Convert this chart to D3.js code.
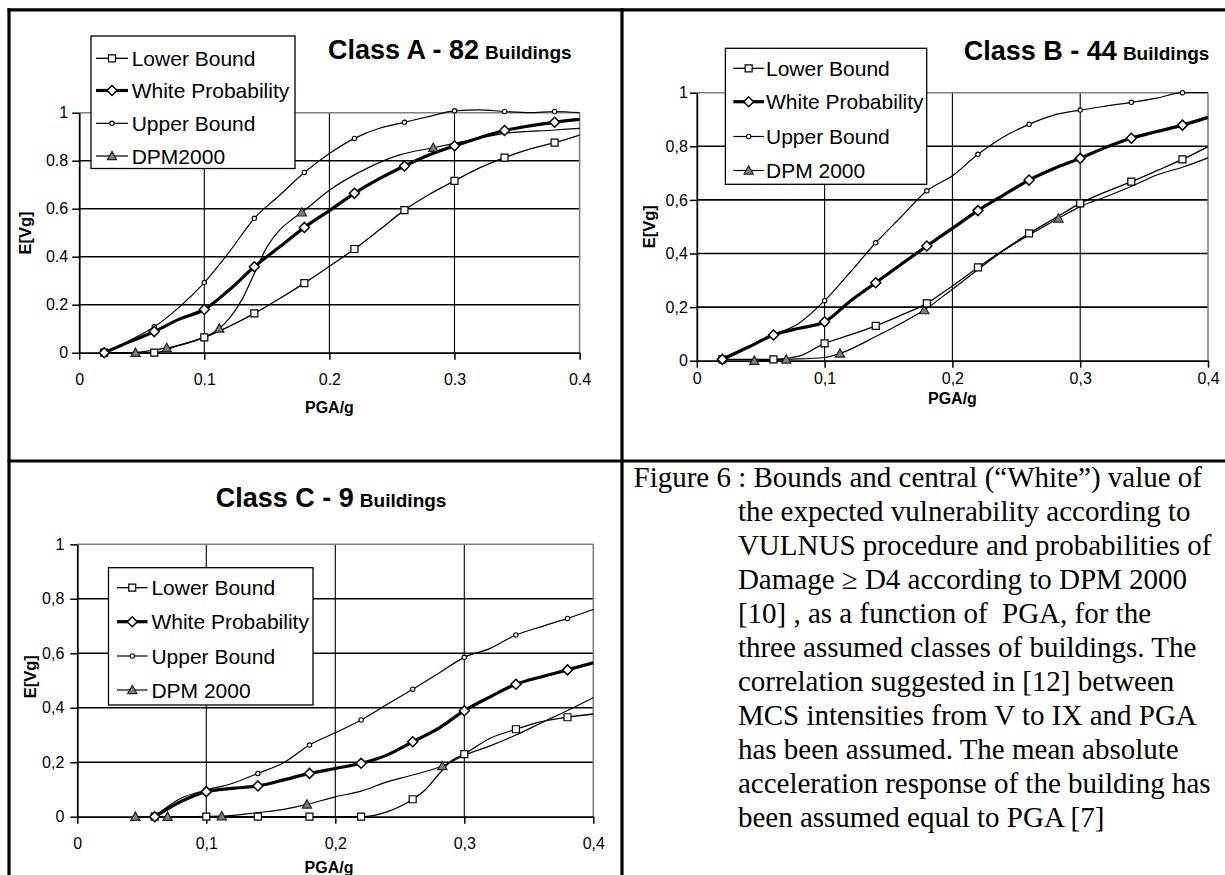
<!DOCTYPE html>
<html>
<head>
<meta charset="utf-8">
<script src="https://cdn.jsdelivr.net/npm/d3@7"></script>
<style>
  html, body { margin: 0; padding: 0; background: #fff; }
  svg { display: block; }
</style>
</head>
<body>
<script>
// ---------------- DATA ----------------
const xTickValues = [0, 0.1, 0.2, 0.3, 0.4];
const yTickValues = [0, 0.2, 0.4, 0.6, 0.8, 1];
const xTickLabelsA = ["0", "0.1", "0.2", "0.3", "0.4"];
const yTickLabelsA = ["0", "0.2", "0.4", "0.6", "0.8", "1"];
const xTickLabelsBC = ["0", "0,1", "0,2", "0,3", "0,4"];
const yTickLabelsBC = ["0", "0,2", "0,4", "0,6", "0,8", "1"];

const seriesNamesA = ["Lower Bound", "White Probability", "Upper Bound", "DPM2000"];
const seriesNamesBC = ["Lower Bound", "White Probability", "Upper Bound", "DPM 2000"];

// marker positions (PGA/g)
const boundMarksAB = [0.02, 0.06, 0.10, 0.14, 0.18, 0.22, 0.26, 0.30, 0.34, 0.38];
const boundMarksC = [0.06, 0.10, 0.14, 0.18, 0.22, 0.26, 0.30, 0.34, 0.38];
const dpmMarks = [0.045, 0.070, 0.112, 0.178, 0.283];

// Class A - 82 buildings
const pgaA = [0.02,0.04,0.06,0.08,0.10,0.12,0.14,0.16,0.18,0.20,0.22,0.24,0.26,0.28,0.30,0.32,0.34,0.36,0.38,0.40];
const upperA = [0.000,0.050,0.108,0.190,0.292,0.420,0.560,0.655,0.751,0.830,0.893,0.935,0.960,0.985,1.008,1.012,1.005,1.000,1.005,1.000];
const whiteA = [0.000,0.045,0.088,0.140,0.180,0.262,0.358,0.440,0.522,0.592,0.664,0.725,0.778,0.825,0.862,0.896,0.926,0.945,0.960,0.972];
const lowerA = [0.000,0.000,0.000,0.032,0.064,0.110,0.164,0.225,0.290,0.360,0.432,0.512,0.594,0.660,0.716,0.770,0.813,0.848,0.875,0.907];
const pgaDpmA = [0.045,0.070,0.090,0.112,0.120,0.130,0.140,0.150,0.160,0.170,0.178,0.200,0.230,0.256,0.283,0.300,0.340,0.380,0.400];
const dpmA = [0.000,0.020,0.045,0.101,0.143,0.220,0.330,0.440,0.510,0.555,0.585,0.677,0.768,0.824,0.854,0.872,0.914,0.928,0.935];

// Class B - 44 buildings
const pgaB = [0.02,0.04,0.06,0.08,0.10,0.12,0.14,0.16,0.18,0.20,0.22,0.24,0.26,0.28,0.30,0.32,0.34,0.36,0.38,0.40];
const upperB = [0.009,0.052,0.096,0.140,0.224,0.330,0.440,0.537,0.634,0.690,0.770,0.835,0.882,0.917,0.935,0.950,0.964,0.980,1.000,1.000];
const whiteB = [0.005,0.050,0.096,0.121,0.145,0.222,0.291,0.360,0.428,0.494,0.560,0.618,0.674,0.718,0.755,0.796,0.830,0.855,0.879,0.908];
const lowerB = [0.005,0.005,0.005,0.017,0.065,0.096,0.130,0.170,0.214,0.279,0.348,0.413,0.475,0.531,0.587,0.630,0.668,0.709,0.751,0.799];
const pgaDpmB = [0.045,0.070,0.100,0.112,0.140,0.160,0.178,0.200,0.240,0.283,0.300,0.320,0.340,0.360,0.380,0.400];
const dpmB = [0.000,0.005,0.012,0.027,0.090,0.140,0.189,0.267,0.410,0.531,0.575,0.612,0.650,0.693,0.722,0.757];

// Class C - 9 buildings
const pgaC = [0.06,0.08,0.10,0.12,0.14,0.16,0.18,0.20,0.22,0.24,0.26,0.28,0.30,0.32,0.34,0.36,0.38,0.40];
const upperC = [0.002,0.067,0.098,0.122,0.159,0.198,0.263,0.308,0.355,0.412,0.468,0.526,0.585,0.618,0.667,0.698,0.728,0.761];
const whiteC = [0.000,0.055,0.092,0.104,0.113,0.135,0.159,0.177,0.196,0.226,0.275,0.324,0.389,0.440,0.486,0.514,0.539,0.565];
const pgaLowerC = [0.06,0.10,0.14,0.18,0.22,0.24,0.26,0.27,0.28,0.29,0.30,0.32,0.34,0.36,0.38,0.40];
const lowerC = [0.000,0.000,0.000,0.000,0.000,0.018,0.064,0.100,0.155,0.205,0.230,0.288,0.321,0.349,0.365,0.377];
const pgaDpmC = [0.045,0.070,0.112,0.140,0.160,0.178,0.200,0.220,0.240,0.260,0.283,0.300,0.320,0.340,0.360,0.380,0.400];
const dpmC = [0.000,0.000,0.002,0.015,0.027,0.045,0.073,0.094,0.128,0.153,0.186,0.225,0.260,0.300,0.345,0.390,0.437];

const captionLines = [
  "Figure 6 : Bounds and central (\u201CWhite\u201D) value of",
  "the expected vulnerability according to",
  "VULNUS procedure and probabilities of",
  "Damage \u2265 D4 according to DPM 2000",
  "[10] , as a function of  PGA, for the",
  "three assumed classes of buildings. The",
  "correlation suggested in [12] between",
  "MCS intensities from V to IX and PGA",
  "has been assumed. The mean absolute",
  "acceleration response of the building has",
  "been assumed equal to PGA [7]"
];

// ---------------- DRAWING ----------------
const W = 1225, H = 875;
const svg = d3.select("body").append("svg").attr("width", W).attr("height", H)
  .style("font-family", "'Liberation Sans', Arial, sans-serif");
svg.append("rect").attr("width", W).attr("height", H).attr("fill", "#fff");

function markerPath(type, cx, cy) {
  if (type === "square") { const s = 3.5; return `M${cx-s},${cy-s}h${2*s}v${2*s}h${-2*s}Z`; }
  if (type === "diamond") { const s = 5; return `M${cx},${cy-s}L${cx+s},${cy}L${cx},${cy+s}L${cx-s},${cy}Z`; }
  if (type === "triangle") { const s = 4.6; return `M${cx},${cy-s}L${cx+s},${cy+s*0.8}L${cx-s},${cy+s*0.8}Z`; }
  return null;
}
function drawMarker(g, type, cx, cy) {
  if (type === "circle") {
    g.append("circle").attr("cx", cx).attr("cy", cy).attr("r", 2.2)
      .attr("fill", "#fff").attr("stroke", "#000").attr("stroke-width", 1.1);
  } else {
    g.append("path").attr("d", markerPath(type, cx, cy))
      .attr("fill", type === "triangle" ? "#7f7f7f" : "#fff")
      .attr("stroke", type === "triangle" ? "#222" : "#000")
      .attr("stroke-width", type === "diamond" ? 1.5 : 1.2);
  }
}

function drawPanel(cfg) {
  const g = svg.append("g");
  const x = d3.scaleLinear().domain([0, 0.4]).range([cfg.L, cfg.R]);
  const y = d3.scaleLinear().domain([0, 1]).range([cfg.B, cfg.T]);

  // grid
  [0.2, 0.4, 0.6, 0.8].forEach(v => g.append("line")
    .attr("x1", cfg.L).attr("x2", cfg.R).attr("y1", y(v)).attr("y2", y(v))
    .attr("stroke", "#000").attr("stroke-width", 1.6));
  [0.1, 0.2, 0.3].forEach(v => g.append("line")
    .attr("x1", x(v)).attr("x2", x(v)).attr("y1", cfg.T).attr("y2", cfg.B)
    .attr("stroke", "#000").attr("stroke-width", 1.1));
  // plot-area border (top & right, grey)
  g.append("line").attr("x1", cfg.L).attr("x2", cfg.R).attr("y1", y(1)).attr("y2", y(1))
    .attr("stroke", "#808080").attr("stroke-width", 1.6);
  g.append("line").attr("x1", x(0.4)).attr("x2", x(0.4)).attr("y1", cfg.T).attr("y2", cfg.B)
    .attr("stroke", "#808080").attr("stroke-width", 1.6);

  // axes
  const ax = g.append("g").attr("transform", `translate(0,${cfg.B})`)
    .call(d3.axisBottom(x).tickValues(xTickValues).tickFormat((d, i) => cfg.xLabels[i])
      .tickSize(7).tickSizeOuter(0).tickPadding(cfg.xPad));
  const ay = g.append("g").attr("transform", `translate(${cfg.L},0)`)
    .call(d3.axisLeft(y).tickValues(yTickValues).tickFormat((d, i) => cfg.yLabels[i])
      .tickSize(7).tickSizeOuter(0).tickPadding(cfg.yPad));
  [ax, ay].forEach(a => {
    a.select(".domain").attr("stroke", "#000").attr("stroke-width", 1.8);
    a.selectAll(".tick line").attr("stroke", "#000").attr("stroke-width", 1.5);
    a.selectAll(".tick text").attr("fill", "#000").style("font-size", "16px")
      .style("font-family", "'Liberation Sans', Arial, sans-serif");
  });

  // series
  const line = d3.line().curve(d3.curveMonotoneX);
  cfg.series.forEach(s => {
    const pts = s.xs.map((v, i) => [x(v), y(s.ys[i])]);
    g.append("path").attr("d", line(pts)).attr("fill", "none")
      .attr("stroke", "#000").attr("stroke-width", s.width).attr("stroke-linejoin", "round");
  });
  cfg.series.forEach(s => {
    s.marks.forEach(m => {
      const i = s.xs.findIndex(v => Math.abs(v - m) < 1e-6);
      if (i >= 0) drawMarker(g, s.type, x(s.xs[i]), y(s.ys[i]));
    });
  });

  // legend
  const lg = cfg.legend;
  g.append("rect").attr("x", lg.x0).attr("y", lg.y0).attr("width", lg.x1 - lg.x0).attr("height", lg.y1 - lg.y0)
    .attr("fill", "#fff").attr("stroke", "#000").attr("stroke-width", 1.3);
  [0, 1, 2, 3].forEach((k, r) => {
    const s = cfg.legendSeries[k];
    const yy = lg.rows[r];
    g.append("line").attr("x1", lg.s0).attr("x2", lg.s1).attr("y1", yy).attr("y2", yy)
      .attr("stroke", "#000").attr("stroke-width", s.width);
    drawMarker(g, s.type, (lg.s0 + lg.s1) / 2, yy);
    g.append("text").attr("x", lg.tx).attr("y", yy + 7.5).text(cfg.names[k])
      .style("font-size", "21px").attr("fill", "#000");
  });

  // title
  const t = g.append("text").attr("x", cfg.titleX).attr("y", cfg.titleY)
    .style("font-weight", "bold").attr("fill", "#000");
  t.append("tspan").text(cfg.titleMain).style("font-size", "27px");
  t.append("tspan").text("Buildings").attr("dx", 6).style("font-size", "19px");

  // axis titles
  g.append("text").attr("x", cfg.xTitleX).attr("y", cfg.xTitleY).attr("text-anchor", "middle")
    .style("font-weight", "bold").style("font-size", "16px").text("PGA/g");
  g.append("text").attr("transform", `translate(${cfg.yTitleX},${cfg.yTitleY}) rotate(-90)`)
    .attr("text-anchor", "middle").style("font-weight", "bold").style("font-size", "16.5px").text("E[Vg]");
}

function makeSeries(lx, ly, wx, wy, ux, uy, dx, dy, bMarks, lMarks) {
  return [
    { xs: dx, ys: dy, marks: dpmMarks, type: "triangle", width: 1.2 },
    { xs: lx, ys: ly, marks: lMarks, type: "square", width: 1.3 },
    { xs: ux, ys: uy, marks: bMarks, type: "circle", width: 1.2 },
    { xs: wx, ys: wy, marks: bMarks, type: "diamond", width: 3.2 }
  ];
}
const legendSeries = [
  { type: "square", width: 1.3 }, { type: "diamond", width: 3.2 },
  { type: "circle", width: 1.2 }, { type: "triangle", width: 1.2 }
];

drawPanel({
  L: 79.2, R: 579.6, T: 112.7, B: 352.7, xPad: 14, yPad: 4,
  xLabels: xTickLabelsA, yLabels: yTickLabelsA, names: seriesNamesA,
  series: makeSeries(pgaA, lowerA, pgaA, whiteA, pgaA, upperA, pgaDpmA, dpmA, boundMarksAB, boundMarksAB),
  legendSeries,
  legend: { x0: 91, y0: 36, x1: 295, y1: 168.5, s0: 96, s1: 128, tx: 131.7, rows: [58.3, 90.5, 123.3, 156] },
  titleX: 328, titleY: 59, titleMain: "Class A - 82",
  xTitleX: 329.4, xTitleY: 412.5, yTitleX: 31, yTitleY: 233
});

drawPanel({
  L: 696.8, R: 1208, T: 92.7, B: 360.7, xPad: 5, yPad: 2,
  xLabels: xTickLabelsBC, yLabels: yTickLabelsBC, names: seriesNamesBC,
  series: makeSeries(pgaB, lowerB, pgaB, whiteB, pgaB, upperB, pgaDpmB, dpmB, boundMarksAB, boundMarksAB),
  legendSeries,
  legend: { x0: 725.4, y0: 48.3, x1: 926.7, y1: 184.3, s0: 733.3, s1: 764, tx: 766, rows: [68.3, 101.7, 136.5, 170.5] },
  titleX: 963.8, titleY: 60, titleMain: "Class B - 44",
  xTitleX: 952.4, xTitleY: 404, yTitleX: 655, yTitleY: 226.7
});

drawPanel({
  L: 77.3, R: 593.3, T: 544.3, B: 816.7, xPad: 13.5, yPad: 6,
  xLabels: xTickLabelsBC, yLabels: yTickLabelsBC, names: seriesNamesBC,
  series: makeSeries(pgaLowerC, lowerC, pgaC, whiteC, pgaC, upperC, pgaDpmC, dpmC, boundMarksC, boundMarksC),
  legendSeries,
  legend: { x0: 108.5, y0: 567.7, x1: 313, y1: 705, s0: 117, s1: 147.5, tx: 151.4, rows: [587.7, 621.7, 656, 690] },
  titleX: 215.8, titleY: 506.7, titleMain: "Class C - 9",
  xTitleX: 329, xTitleY: 872.5, yTitleX: 36, yTitleY: 676.7
});

// caption
const cap = svg.append("g").style("font-family", "'Liberation Serif', 'Times New Roman', serif")
  .style("font-size", "29px").attr("fill", "#000");
captionLines.forEach((s, i) => {
  cap.append("text").attr("x", i === 0 ? 633.5 : 737.9).attr("y", 487 + 34 * i)
    .attr("xml:space", "preserve").style("white-space", "pre").text(s);
});

// table frame
const frame = svg.append("g").attr("stroke", "#000").attr("stroke-width", 3.2);
frame.append("line").attr("x1", 7.5).attr("x2", W).attr("y1", 9.8).attr("y2", 9.8);
frame.append("line").attr("x1", 9).attr("x2", 9).attr("y1", 8.2).attr("y2", H);
frame.append("line").attr("x1", 622).attr("x2", 622).attr("y1", 8.2).attr("y2", H);
frame.append("line").attr("x1", 7.5).attr("x2", W).attr("y1", 461).attr("y2", 461);
</script>
</body>
</html>
